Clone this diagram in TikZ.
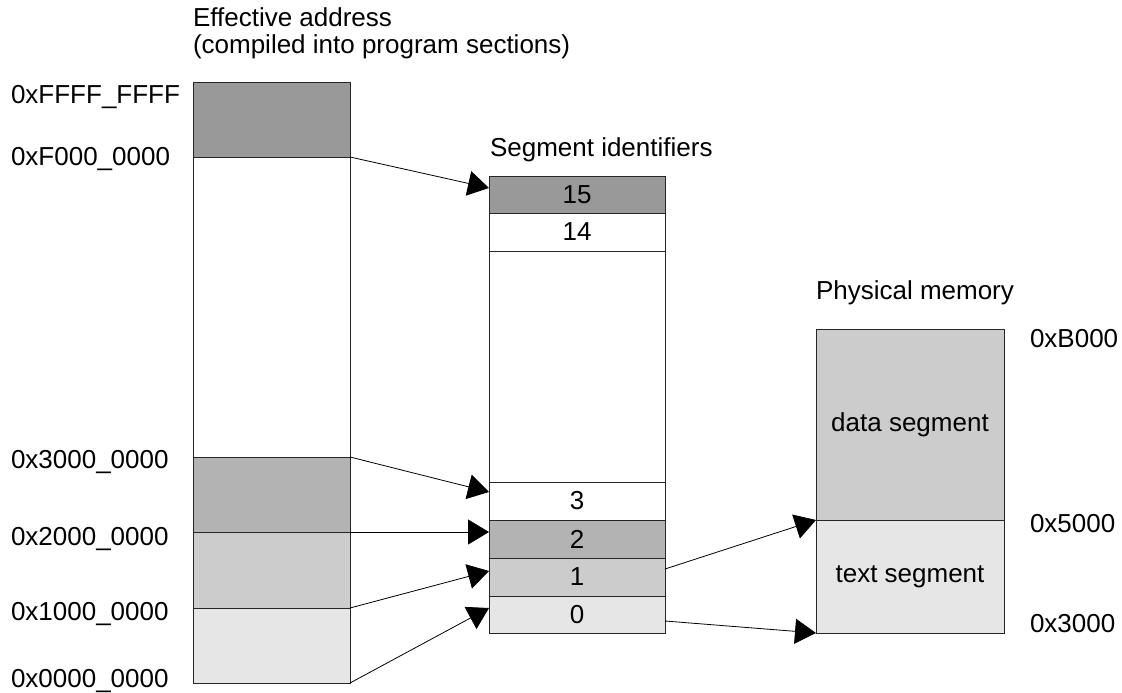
\documentclass[tikz,border=0pt]{standalone}
\usepackage{fontspec}
\setmainfont{Liberation Sans}
\usetikzlibrary{arrows.meta}
\definecolor{gA}{HTML}{999999}
\definecolor{gB}{HTML}{B3B3B3}
\definecolor{gC}{HTML}{CCCCCC}
\definecolor{gD}{HTML}{E6E6E6}
\newcommand{\fsz}{\fontsize{26}{31}\selectfont}
\begin{document}
\begin{tikzpicture}[x=1pt,y=-1pt,
  blk/.style={draw=black!85, line width=0.9pt, anchor=north west, inner sep=0pt, outer sep=0pt, font=\fsz},
  ea/.style={blk, minimum width=157pt},
  sg/.style={blk, minimum width=176pt},
  ph/.style={blk, minimum width=188pt},
  lbl/.style={anchor=base west, inner sep=0pt, outer sep=0pt, font=\fsz},
  arr/.style={line width=0.8pt, -{Triangle[length=21pt,width=25pt]}}]
\useasboundingbox (0,0) rectangle (1122,693);
% titles
\node[lbl] (t1) at (193,27) {Effective address};
\node[lbl] (t2) at (193,54) {(compiled into program sections)};
\node[lbl] (t3) at (490,156) {Segment identifiers};
\node[lbl] (t4) at (816,299) {Physical memory};
% effective address column
\node[ea, fill=gA, minimum height=75pt] (eaF) at (193,82) {};
\node[ea, fill=white, minimum height=300pt] (eaW) at (193,157) {};
\node[ea, fill=gB, minimum height=75pt] (ea2) at (193,457) {};
\node[ea, fill=gC, minimum height=76pt] (ea1) at (193,532) {};
\node[ea, fill=gD, minimum height=75pt] (ea0) at (193,608) {};
% address labels
\node[lbl] (a1) at (11,103) {0xFFFF\_FFFF};
\node[lbl] (a2) at (11,165) {0xF000\_0000};
\node[lbl] (a3) at (11,468) {0x3000\_0000};
\node[lbl] (a4) at (11,545) {0x2000\_0000};
\node[lbl] (a5) at (11,620) {0x1000\_0000};
\node[lbl] (a6) at (11,687) {0x0000\_0000};
% segment identifiers
\node[sg, fill=gA, minimum height=37pt] (s15) at (489,176) {15};
\node[sg, fill=white, minimum height=38pt] (s14) at (489,213) {14};
\node[sg, fill=white, minimum height=231pt] (sM) at (489,251) {};
\node[sg, fill=white, minimum height=38pt] (s3) at (489,482) {3};
\node[sg, fill=gB, minimum height=38pt] (s2) at (489,520) {2};
\node[sg, fill=gC, minimum height=38pt] (s1) at (489,558) {1};
\node[sg, fill=gD, minimum height=37pt] (s0) at (489,596) {0};
% physical memory
\node[ph, fill=gC, minimum height=191pt] (pd) at (816,329) {data segment};
\node[ph, fill=gD, minimum height=113pt] (pt) at (816,520) {text segment};
\node[lbl] (b1) at (1030,347) {0xB000};
\node[lbl] (b2) at (1030,532) {0x5000};
\node[lbl] (b3) at (1030,632) {0x3000};
% arrows
\draw[arr] (eaF.south east) -- ([yshift=-12pt]s15.north west);
\draw[arr] (eaW.south east) -- ([yshift=-10pt]s3.north west);
\draw[arr] (ea2.south east) -- ([yshift=-12pt]s2.north west);
\draw[arr] (ea1.south east) -- ([yshift=-13pt]s1.north west);
\draw[arr] (ea0.south east) -- ([yshift=-12pt]s0.north west);
\draw[arr] ([yshift=-11pt]s1.north east) -- (pd.south west);
\draw[arr] ([yshift=-25pt]s0.north east) -- (pt.south west);
\end{tikzpicture}
\end{document}
